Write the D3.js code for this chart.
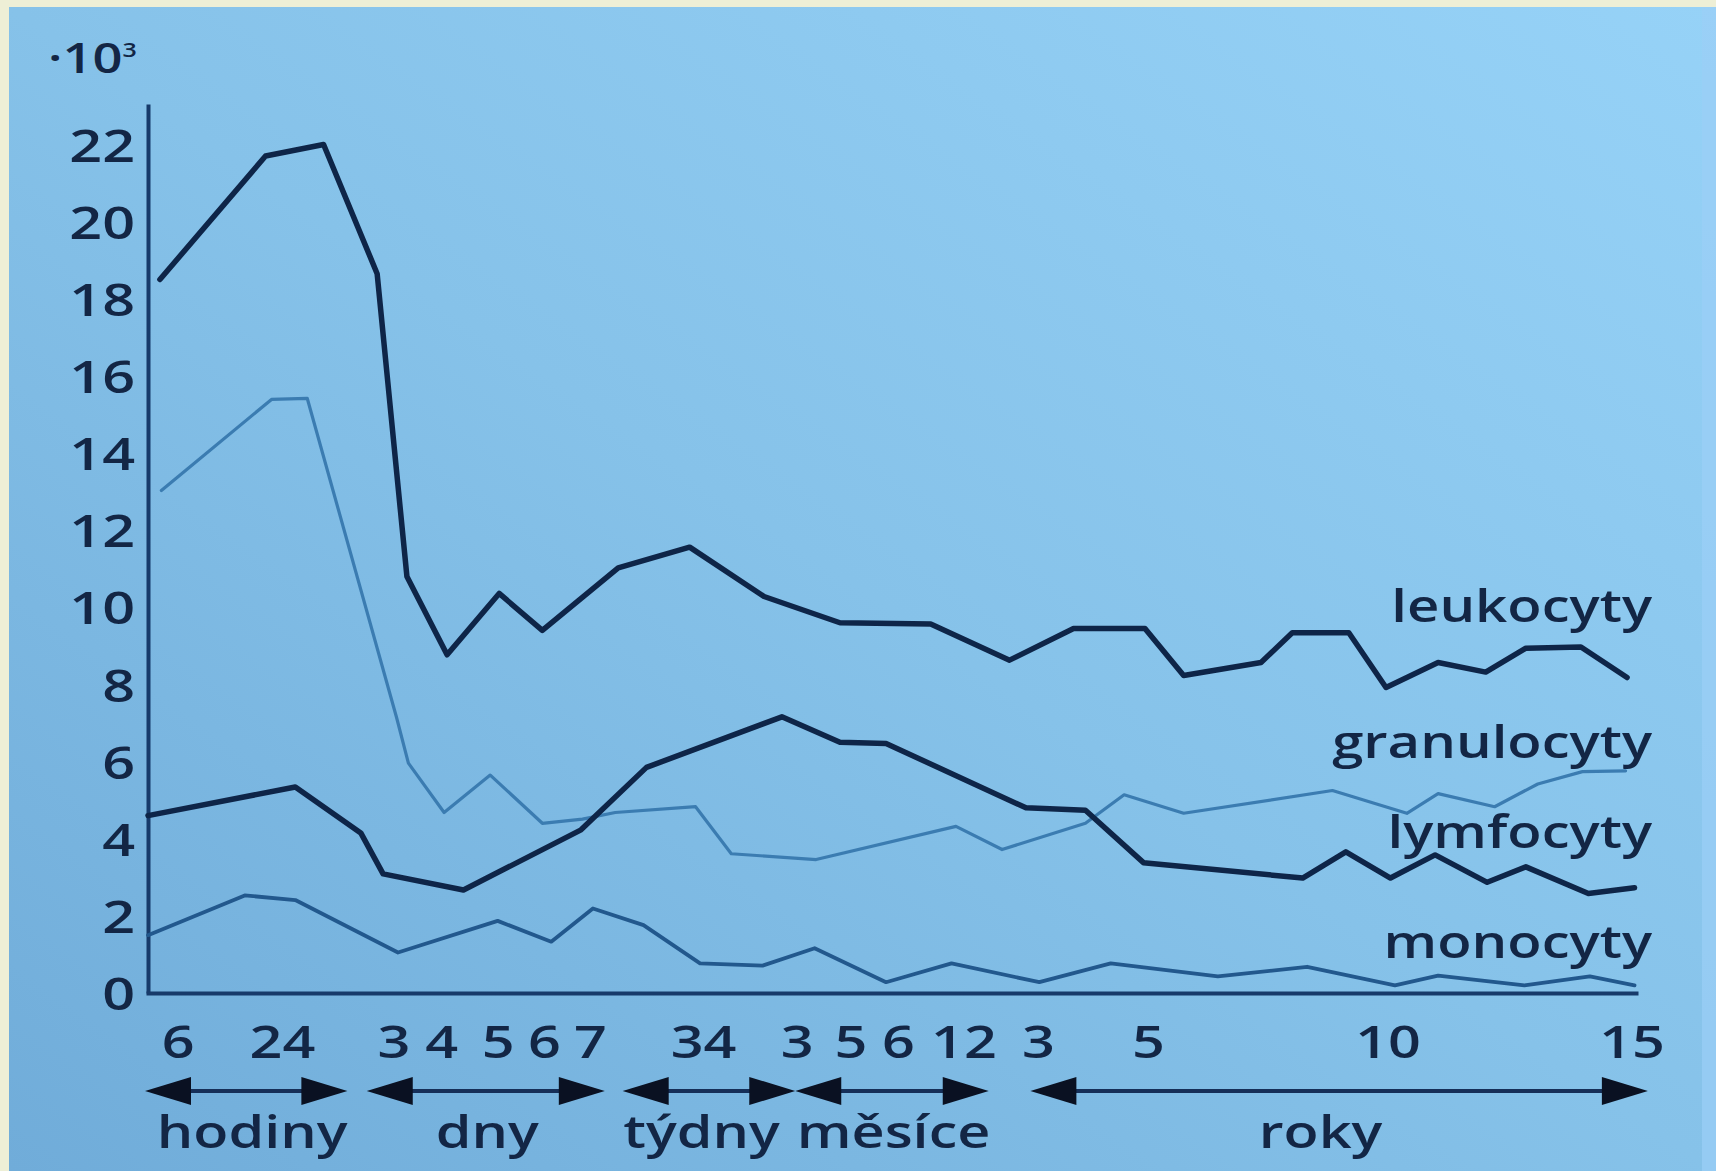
<!DOCTYPE html>
<html><head><meta charset="utf-8">
<script src="https://cdn.jsdelivr.net/npm/d3@7"></script>
<style>html,body{margin:0;padding:0;background:#eeefd6;} svg{display:block;}</style>
</head><body>
<svg id="c" width="1716" height="1171"></svg>
<script>
// ---------------- data ----------------
const yTicks = [0, 2, 4, 6, 8, 10, 12, 14, 16, 18, 20, 22];
// x positions on the (schematic) time line, 0..100
const xTickPos    = [2.0, 9.0, 16.5, 19.7, 23.5, 26.6, 29.7, 37.3, 43.6, 47.2, 50.4, 54.8, 59.8, 67.2, 83.3, 99.7];
const xTickLabels = ["6", "24", "3", "4", "5", "6", "7", "34", "3", "5", "6", "12", "3", "5", "10", "15"];

const periods      = ["hodiny", "dny", "týdny", "měsíce", "roky"];
const periodStart  = [-0.2, 14.7, 31.9, 43.5, 59.3];
const periodEnd    = [13.4, 30.7, 43.5, 56.5, 100.8];
const periodCenter = [7.0, 22.8, 37.2, 50.1, 78.8];

const seriesNames = ["leukocyty", "granulocyty", "lymfocyty", "monocyty"];

const leukoX = [0.8, 7.9, 11.8, 15.4, 17.4, 20.1, 23.6, 26.5, 31.6, 36.4, 41.4, 46.5, 52.6, 57.9, 62.2, 67.0, 69.6, 74.8, 76.9, 80.7, 83.2, 86.7, 89.9, 92.6, 96.3, 99.4];
const leukoY = [18.5, 21.7, 22.0, 18.65, 10.8, 8.77, 10.36, 9.4, 11.02, 11.56, 10.28, 9.6, 9.57, 8.63, 9.45, 9.45, 8.23, 8.57, 9.34, 9.34, 7.92, 8.57, 8.32, 8.94, 8.97, 8.18];

const granuloX = [0.9, 8.3, 10.7, 16.7, 17.5, 19.9, 23.0, 26.5, 29.2, 31.4, 36.8, 39.2, 44.9, 54.3, 57.4, 63.0, 65.6, 69.6, 79.6, 84.6, 86.7, 90.5, 93.4, 96.4, 99.3];
const granuloY = [13.03, 15.39, 15.42, 7.15, 5.96, 4.68, 5.65, 4.4, 4.51, 4.68, 4.83, 3.61, 3.46, 4.32, 3.72, 4.4, 5.14, 4.66, 5.25, 4.66, 5.17, 4.83, 5.42, 5.74, 5.76];

const lymfoX = [0.0, 9.9, 14.3, 15.8, 21.2, 29.1, 33.5, 42.6, 46.5, 49.6, 59.0, 63.0, 66.9, 77.6, 80.5, 83.5, 86.5, 90.0, 92.6, 96.8, 99.9];
const lymfoY = [4.6, 5.34, 4.15, 3.09, 2.67, 4.23, 5.85, 7.16, 6.5, 6.47, 4.8, 4.74, 3.38, 2.98, 3.66, 2.98, 3.58, 2.87, 3.27, 2.58, 2.73];

const monoX = [0.0, 6.5, 9.9, 16.8, 23.5, 27.1, 29.9, 33.3, 37.1, 41.3, 44.8, 49.6, 54.0, 59.9, 64.7, 71.9, 77.9, 83.8, 86.7, 92.5, 96.9, 99.9];
const monoY = [1.5, 2.53, 2.41, 1.05, 1.87, 1.33, 2.19, 1.76, 0.77, 0.71, 1.16, 0.28, 0.77, 0.28, 0.77, 0.43, 0.68, 0.2, 0.45, 0.2, 0.43, 0.2];

// ---------------- layout / style ----------------
const W = 1716, H = 1171;
const FONT = "'Open Sans', 'DejaVu Sans', sans-serif";
const TXT = "#132645";
const SX = 1.25; // horizontal stretch of the lettering

const svg = d3.select("#c");
const defs = svg.append("defs");
const grad = defs.append("linearGradient").attr("id", "bg")
  .attr("x1", "100%").attr("y1", "0%").attr("x2", "0%").attr("y2", "100%");
grad.append("stop").attr("offset", "0%").attr("stop-color", "#96d2f7");
grad.append("stop").attr("offset", "50%").attr("stop-color", "#86c2e9");
grad.append("stop").attr("offset", "100%").attr("stop-color", "#70acd9");

svg.append("rect").attr("width", W).attr("height", H).attr("fill", "#eeefd6");
svg.append("rect").attr("x", 9).attr("y", 7).attr("width", W - 9).attr("height", H - 7).attr("fill", "url(#bg)");
svg.append("rect").attr("x", 1702).attr("y", 7).attr("width", 14).attr("height", H - 7).attr("fill", "#9bcff6").attr("opacity", 0.7);

const x = d3.scaleLinear().domain([0, 100]).range([148, 1636]);
const y = d3.scaleLinear().domain([0, 23.05]).range([993, 104]);

// y axis
const gy = svg.append("g").attr("transform", `translate(${x(0)},0)`)
  .call(d3.axisLeft(y).tickValues(yTicks).tickSize(0).tickSizeOuter(0).tickPadding(10.4));
gy.select(".domain").attr("stroke", "#173a6a").attr("stroke-width", 4);
gy.selectAll("text").attr("font-family", FONT).attr("font-weight", 600).attr("font-size", 46)
  .attr("fill", TXT).attr("dy", "0.36em").attr("transform", `scale(${SX},1)`);

// x axis
const gx = svg.append("g").attr("transform", `translate(0,${y(0)})`)
  .call(d3.axisBottom(x).tickValues(xTickPos).tickFormat((d, i) => xTickLabels[i]).tickSize(0).tickSizeOuter(0));
gx.select(".domain").attr("stroke", "#173a6a").attr("stroke-width", 4).attr("stroke-linecap", "square");
gx.selectAll("text").attr("font-family", FONT).attr("font-weight", 600).attr("font-size", 46)
  .attr("fill", TXT).attr("y", 0).attr("dy", 0).attr("transform", `translate(0,65) scale(${SX},1)`);

// "·10³"
const unit = svg.append("text").attr("transform", `translate(48,73) scale(${SX},1)`)
  .attr("font-family", FONT).attr("font-weight", 600).attr("font-size", 42).attr("fill", TXT);
unit.append("tspan").text("·10");
unit.append("tspan").attr("font-size", 20).attr("dy", -16).text("3");

// lines
const line = d3.line().x(d => x(d[0])).y(d => y(d[1]));
const series = [
  {xs: leukoX, ys: leukoY, color: "#0e2548", w: 5.5},
  {xs: granuloX, ys: granuloY, color: "#3b7cb1", w: 3.2},
  {xs: lymfoX, ys: lymfoY, color: "#0e2548", w: 5.5},
  {xs: monoX, ys: monoY, color: "#22588d", w: 3.8}
];
series.forEach(s => {
  svg.append("path").datum(s.xs.map((v, i) => [v, s.ys[i]]))
    .attr("d", line).attr("fill", "none").attr("stroke", s.color)
    .attr("stroke-width", s.w).attr("stroke-linejoin", "round").attr("stroke-linecap", "round");
});

// series labels
const labelBase = [622, 758, 848, 958];
seriesNames.forEach((n, i) => {
  svg.append("text").attr("transform", `translate(${x(100) + 16},${labelBase[i]}) scale(${SX},1)`)
    .attr("text-anchor", "end").attr("font-family", FONT).attr("font-weight", 600)
    .attr("font-size", 45).attr("fill", TXT).text(n);
});

// period arrows
const arrowY = 1091, headL = 46, headH = 14;
periods.forEach((p, i) => {
  const a = x(periodStart[i]), b = x(periodEnd[i]);
  svg.append("line").attr("x1", a + 20).attr("x2", b - 20).attr("y1", arrowY).attr("y2", arrowY)
    .attr("stroke", "#162f58").attr("stroke-width", 4);
  svg.append("path").attr("d", `M${a},${arrowY} L${a + headL},${arrowY - headH} L${a + headL},${arrowY + headH} Z`).attr("fill", "#0a1122");
  svg.append("path").attr("d", `M${b},${arrowY} L${b - headL},${arrowY - headH} L${b - headL},${arrowY + headH} Z`).attr("fill", "#0a1122");
  svg.append("text").attr("transform", `translate(${x(periodCenter[i])},1148) scale(${SX},1)`)
    .attr("text-anchor", "middle").attr("font-family", FONT).attr("font-weight", 600)
    .attr("font-size", 46).attr("fill", TXT).text(p);
});
</script>
</body></html>
